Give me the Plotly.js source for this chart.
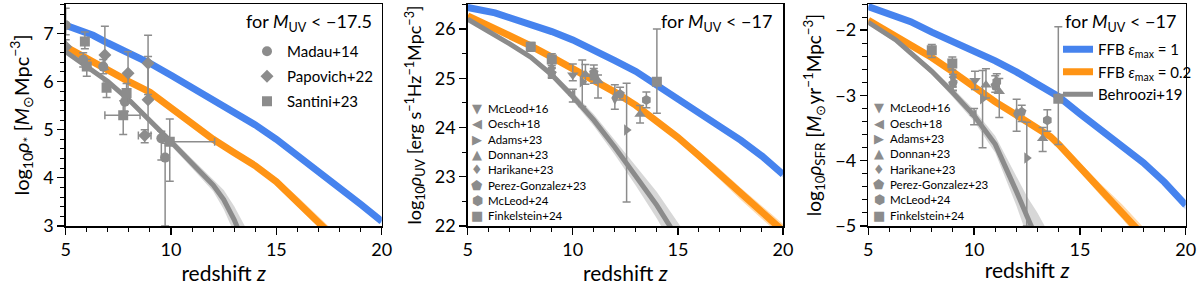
<!DOCTYPE html>
<html><head><meta charset="utf-8">
<script src="https://cdn.plot.ly/plotly-3.0.1.min.js"></script>
<style>html,body{margin:0;padding:0;background:#fff}#chart{width:1200px;height:289px}</style>
</head><body><div id="chart"></div>
<script>
// ---------------- model curves (redshift grids) ----------------
const zModel = [5, 6, 6.3, 7, 8, 9, 10, 11, 12, 13, 14, 15, 16, 17, 18, 19, 20];

// Panel 1: log10 rho_* [Msun Mpc^-3]
const mstarFFB1    = [7.17, 7.0, 6.96, 6.8, 6.6, 6.38, 6.13, 5.88, 5.63, 5.37, 5.1, 4.8, 4.47, 4.13, 3.8, 3.45, 3.1];
const mstarFFB1Err = [0.03, 0.03, 0.03, 0.03, 0.03, 0.03, 0.03, 0.03, 0.03, 0.03, 0.03, 0.03, 0.03, 0.04, 0.05, 0.05, 0.06];
const zMstarFFB02  = [5, 6, 6.3, 7, 8, 9, 10, 11, 12, 13, 14, 15, 16, 17, 17.5, 18];
const mstarFFB02   = [6.72, 6.47, 6.42, 6.22, 6.0, 5.78, 5.45, 5.12, 4.8, 4.52, 4.25, 3.92, 3.52, 3.1, 2.88, 2.65];
const mstarFFB02Err= [0.03, 0.03, 0.03, 0.03, 0.03, 0.03, 0.03, 0.03, 0.04, 0.04, 0.05, 0.07, 0.09, 0.11, 0.12, 0.13];
const zMstarB19    = [5, 6, 6.3, 7, 8, 9, 10, 11, 12, 12.5, 13, 13.5, 14];
const mstarB19     = [6.62, 6.3, 6.22, 6.0, 5.62, 5.2, 4.75, 4.3, 3.85, 3.55, 3.13, 2.6, 2.0];
const mstarB19Err  = [0.03, 0.03, 0.03, 0.04, 0.05, 0.06, 0.08, 0.1, 0.13, 0.2, 0.28, 0.4, 0.5];

// Panel 2: log10 rho_UV [erg s^-1 Hz^-1 Mpc^-3]
const uvFFB1     = [26.44, 26.36, 26.33, 26.23, 26.1, 25.95, 25.78, 25.58, 25.36, 25.14, 24.87, 24.58, 24.3, 24.02, 23.74, 23.42, 23.05];
const uvFFB1Err  = [0.03, 0.03, 0.03, 0.03, 0.03, 0.03, 0.03, 0.03, 0.03, 0.03, 0.03, 0.03, 0.03, 0.04, 0.05, 0.05, 0.06];
const uvFFB02    = [26.27, 26.07, 26.03, 25.88, 25.66, 25.43, 25.2, 24.96, 24.72, 24.45, 24.14, 23.8, 23.43, 23.05, 22.65, 22.27, 21.9];
const uvFFB02Err = [0.03, 0.03, 0.03, 0.03, 0.03, 0.03, 0.03, 0.03, 0.03, 0.03, 0.05, 0.07, 0.09, 0.11, 0.12, 0.13, 0.14];
const zUvB19     = [5, 6, 6.3, 7, 8, 9, 10, 11, 12, 13, 14, 14.5, 15, 15.5];
const uvB19      = [26.2, 25.95, 25.89, 25.7, 25.43, 25.07, 24.63, 24.15, 23.6, 23.02, 22.42, 22.08, 21.75, 21.4];
const uvB19Err   = [0.03, 0.03, 0.03, 0.04, 0.05, 0.07, 0.09, 0.12, 0.15, 0.2, 0.27, 0.3, 0.33, 0.36];

// Panel 3: log10 rho_SFR [Msun yr^-1 Mpc^-3]
const sfrFFB1     = [-1.64, -1.76, -1.78, -1.87, -2.03, -2.17, -2.31, -2.47, -2.64, -2.83, -3.02, -3.28, -3.53, -3.78, -4.03, -4.33, -4.68];
const sfrFFB1Err  = [0.03, 0.03, 0.03, 0.03, 0.03, 0.03, 0.03, 0.03, 0.03, 0.03, 0.03, 0.03, 0.04, 0.04, 0.05, 0.06, 0.07];
const zSfrFFB02   = [5, 6, 6.3, 7, 8, 9, 10, 11, 12, 13, 13.6, 14, 15, 16, 17, 18];
const sfrFFB02    = [-1.85, -2.04, -2.1, -2.22, -2.42, -2.64, -2.88, -3.1, -3.3, -3.5, -3.63, -3.75, -4.1, -4.45, -4.78, -5.15];
const sfrFFB02Err = [0.03, 0.03, 0.03, 0.03, 0.03, 0.03, 0.03, 0.03, 0.03, 0.03, 0.04, 0.05, 0.07, 0.09, 0.11, 0.13];
const zSfrB19     = [5, 6, 6.3, 7, 8, 9, 10, 11, 11.5, 12, 12.5, 13, 13.5];
const sfrB19      = [-1.88, -2.1, -2.15, -2.35, -2.63, -2.96, -3.31, -3.75, -4.1, -4.47, -4.85, -5.2, -5.6];
const sfrB19Err   = [0.03, 0.03, 0.03, 0.04, 0.05, 0.07, 0.09, 0.13, 0.17, 0.22, 0.3, 0.4, 0.5];

// ---------------- observations ----------------
// Panel 1 (stellar mass density)
const madauZ = [5.0, 5.83, 6.78, 7.81, 9.54, 9.72];
const madauV = [7.17, 6.45, 6.31, 5.58, 4.82, 4.42];
const madauHi = [0.35, 0.15, 0.15, 0.2, 0.15, 0.3];
const madauLo = [0.2, 0.15, 0.15, 0.2, 0.45, 1.42];

const papovichZ = [5.0, 6.86, 7.96, 8.91, 8.91, 8.75];
const papovichV = [6.72, 6.55, 6.17, 6.38, 5.62, 4.88];
const papovichHi = [0.15, 0.6, 0.45, 0.58, 0.9, 0.12];
const papovichLo = [0.15, 0.3, 0.6, 0.65, 0.7, 0.15];
const papovichXHi = [0, 0, 0, 0, 0, 0.3];
const papovichXLo = [0, 0, 0, 0, 0, 0.3];

const santiniZ = [5.91, 6.0, 6.94, 7.89, 7.73, 9.94];
const santiniV = [6.83, 6.31, 5.87, 5.76, 5.3, 4.75];
const santiniHi = [0.2, 0.15, 0.12, 0.2, 0.3, 0.47];
const santiniLo = [0.15, 0.2, 0.2, 0.2, 0.4, 0.82];
const santiniXHi = [0, 0, 0, 0, 0.8, 2.13];
const santiniXLo = [0, 0, 0, 0, 0.87, 0.2];

// Panels 2 & 3 surveys
const obsNames = ['McLeod+16', 'Oesch+18', 'Adams+23', 'Donnan+23', 'Harikane+23', 'Perez-Gonzalez+23', 'McLeod+24', 'Finkelstein+24'];
const obsSymbols = ['triangle-down', 'triangle-left', 'triangle-right', 'triangle-up', 'diamond-tall', 'pentagon', 'hexagon', 'square'];
const obsGlyphs = ['▼', '◀', '▶', '▲', '♦', '⬟', '⬢', '■'];

const uvObsZ  = [[10.0], [10.0], [9.0, 10.45, 12.56], [10.6, 11.2, 13.2], [9.0, 12.0], [9.0, 11.0, 12.25], [11.0, 13.5], [8.0, 9.0, 14.0]];
const uvObsV  = [[25.07], [24.66], [25.12, 24.93, 23.95], [25.08, 24.95, 24.27], [25.2, 24.6], [25.1, 25.12, 24.68], [25.05, 24.56], [25.64, 25.38, 24.93]];
const uvObsHi = [[0.22], [0.12], [0.1, 0.44, 0.95], [0.2, 0.12, 0.18], [0.15, 0.27], [0.1, 0.15, 0.14], [0.15, 0.16], [0.09, 0.12, 1.07]];
const uvObsLo = [[0.12], [0.14], [0.1, 0.5, 1.46], [0.2, 0.35, 0.18], [0.15, 0.23], [0.1, 0.15, 0.12], [0.15, 0.16], [0.09, 0.12, 0.64]];

const sfrObsZ  = [[10.04], [10.0], [9.0, 10.4, 12.49], [10.56, 11.19, 13.24], [9.0, 12.01], [9.0, 11.0, 12.25], [11.07, 13.46], [8.0, 8.97, 13.98]];
const sfrObsV  = [[-2.77], [-3.3], [-2.78, -3.05, -3.96], [-2.84, -2.94, -3.66], [-2.72, -3.28], [-2.82, -2.85, -3.25], [-2.79, -3.38], [-2.31, -2.51, -3.05]];
const sfrObsHi = [[0.14], [0.1], [0.1, 0.43, 0.55], [0.25, 0.2, 0.17], [0.15, 0.22], [0.1, 0.15, 0.1], [0.12, 0.16], [0.09, 0.1, 1.1]];
const sfrObsLo = [[0.14], [0.15], [0.15, 0.75, 1.04], [0.2, 0.4, 0.2], [0.15, 0.27], [0.1, 0.1, 0.15], [0.12, 0.17], [0.11, 0.1, 0.7]];

// ---------------- styling ----------------
const FONT = 'Lato, "Noto Sans", sans-serif';
const BLUE = '#4683EE', BLUE_BAND = 'rgba(70,131,238,0.35)';
const ORANGE = '#FF9415', ORANGE_BAND = 'rgba(255,148,21,0.35)';
const GRAY = '#8B8B8B', GRAY_BAND = 'rgba(150,150,150,0.38)';
const PGRAY = '#8C8C8C';

const traces = [];

function addModel(z, v, err, xa, ya, color, band, width, name, legend) {
  const hi = v.map((d, i) => d + err[i]);
  const lo = v.map((d, i) => d - err[i]);
  traces.push({
    x: z.concat(z.slice().reverse()), y: hi.concat(lo.slice().reverse()),
    xaxis: xa, yaxis: ya, mode: 'lines', fill: 'toself', fillcolor: band,
    line: {width: 0}, showlegend: false, hoverinfo: 'skip'
  });
  traces.push({
    x: z, y: v, xaxis: xa, yaxis: ya, mode: 'lines', name: name,
    line: {color: color, width: width},
    showlegend: !!legend, legend: legend || 'legend'
  });
}

function addObs(z, v, hi, lo, xhi, xlo, xa, ya, symbol, name, legend) {
  const t = {
    x: z, y: v, xaxis: xa, yaxis: ya, mode: 'markers', name: name,
    marker: {symbol: symbol, size: 10, color: PGRAY},
    error_y: {type: 'data', symmetric: false, array: hi, arrayminus: lo, color: PGRAY, thickness: 1.5, width: 4},
    showlegend: !!legend, legend: legend || 'legend', legendgroup: name
  };
  if (xhi) t.error_x = {type: 'data', symmetric: false, array: xhi, arrayminus: xlo, color: PGRAY, thickness: 1.5, width: 4};
  traces.push(t);
}

// Panel 1
addModel(zModel, mstarFFB1, mstarFFB1Err, 'x', 'y', BLUE, BLUE_BAND, 7);
addModel(zMstarFFB02, mstarFFB02, mstarFFB02Err, 'x', 'y', ORANGE, ORANGE_BAND, 7);
addModel(zMstarB19, mstarB19, mstarB19Err, 'x', 'y', GRAY, GRAY_BAND, 5);
addObs(madauZ, madauV, madauHi, madauLo, null, null, 'x', 'y', 'circle', 'Madau+14', 'legend');
addObs(papovichZ, papovichV, papovichHi, papovichLo, papovichXHi, papovichXLo, 'x', 'y', 'diamond', 'Papovich+22', 'legend');
addObs(santiniZ, santiniV, santiniHi, santiniLo, santiniXHi, santiniXLo, 'x', 'y', 'square', 'Santini+23', 'legend');

// Panel 2
addModel(zModel, uvFFB1, uvFFB1Err, 'x2', 'y2', BLUE, BLUE_BAND, 7);
addModel(zModel, uvFFB02, uvFFB02Err, 'x2', 'y2', ORANGE, ORANGE_BAND, 7);
addModel(zUvB19, uvB19, uvB19Err, 'x2', 'y2', GRAY, GRAY_BAND, 5);
obsNames.forEach((n, i) => addObs(uvObsZ[i], uvObsV[i], uvObsHi[i], uvObsLo[i], null, null, 'x2', 'y2', obsSymbols[i], n));

// Panel 3
addModel(zModel, sfrFFB1, sfrFFB1Err, 'x3', 'y3', BLUE, BLUE_BAND, 7, 'FFB <i>ε</i><sub>max</sub> = 1', 'legend2');
addModel(zSfrFFB02, sfrFFB02, sfrFFB02Err, 'x3', 'y3', ORANGE, ORANGE_BAND, 7, 'FFB <i>ε</i><sub>max</sub> = 0.2', 'legend2');
addModel(zSfrB19, sfrB19, sfrB19Err, 'x3', 'y3', GRAY, GRAY_BAND, 5, 'Behroozi+19', 'legend2');
obsNames.forEach((n, i) => addObs(sfrObsZ[i], sfrObsV[i], sfrObsHi[i], sfrObsLo[i], null, null, 'x3', 'y3', obsSymbols[i], n));

// ---------------- layout ----------------
const W = 1200, H = 289;
const px = v => v / W, py = v => 1 - v / H;
const yDom = [py(226), py(4)];

function xAx(l, r, anchor) {
  return {
    domain: [px(l), px(r)], anchor: anchor, range: [5, 20], dtick: 5, tick0: 0,
    showline: true, linecolor: '#000', linewidth: 1.5, mirror: true,
    ticks: 'outside', ticklen: 7, tickwidth: 1.3, tickcolor: '#000',
    minor: {dtick: 1, ticks: 'outside', ticklen: 4.5, tickwidth: 1, tickcolor: '#000'},
    showgrid: false, zeroline: false, tickfont: {size: 18, color: '#000', family: FONT},
    title: {text: 'redshift <i>z</i>', font: {size: 21, color: '#000', family: FONT}, standoff: 4}
  };
}
function yAx(range, minor, anchor, title, tsize) {
  return {
    domain: yDom, anchor: anchor, range: range, dtick: 1,
    showline: true, linecolor: '#000', linewidth: 1.5, mirror: true,
    ticks: 'outside', ticklen: 7, tickwidth: 1.3, tickcolor: '#000',
    minor: {dtick: minor, ticks: 'outside', ticklen: 4.5, tickwidth: 1, tickcolor: '#000'},
    showgrid: false, zeroline: false, tickfont: {size: 18, color: '#000', family: FONT},
    title: {text: title, font: {size: tsize, color: '#000', family: FONT}, standoff: 8}
  };
}

const annotations = [];
function headline(xr, text) {
  annotations.push({xref: 'paper', yref: 'paper', x: px(xr), y: py(22), xanchor: 'right', yanchor: 'middle',
    text: text, showarrow: false, font: {size: 18, color: '#000', family: FONT}});
}
headline(374, 'for <i>M</i><sub>UV</sub> < −17.5');
headline(774, 'for <i>M</i><sub>UV</sub> < −17');
headline(1178, 'for <i>M</i><sub>UV</sub> < −17');

function smallLegend(symX, textX, y0) {
  obsNames.forEach((n, i) => {
    const yy = y0 + i * 15.3;
    annotations.push({xref: 'paper', yref: 'paper', x: px(symX), y: py(yy), xanchor: 'center', yanchor: 'middle',
      text: obsGlyphs[i], showarrow: false, font: {size: 13, color: PGRAY, family: '"DejaVu Sans", sans-serif'}});
    annotations.push({xref: 'paper', yref: 'paper', x: px(textX), y: py(yy), xanchor: 'left', yanchor: 'middle',
      text: n, showarrow: false, font: {size: 11.5, color: '#000', family: FONT}});
  });
}
smallLegend(477, 486, 108.5);
smallLegend(879, 888, 108);

const layout = {
  width: W, height: H, margin: {l: 0, r: 0, t: 0, b: 0},
  paper_bgcolor: '#fff', plot_bgcolor: '#fff',
  font: {family: FONT, color: '#000'},
  xaxis: xAx(65.7, 381.7, 'y'),
  yaxis: yAx([3, 7.61], 0.2, 'x', 'log<sub>10</sub><i>ρ</i><sub>*</sub> [<i>M</i><sub>⊙</sub>Mpc<sup>−3</sup>]', 20),
  xaxis2: xAx(467.7, 783, 'y2'),
  yaxis2: yAx([22, 26.51], 0.5, 'x2', 'log<sub>10</sub><i>ρ</i><sub>UV</sub> [erg s<sup>−1</sup>Hz<sup>−1</sup>Mpc<sup>−3</sup>]', 18),
  xaxis3: xAx(868.3, 1185.7, 'y3'),
  yaxis3: yAx([-5, -1.6], 0.2, 'x3', 'log<sub>10</sub><i>ρ</i><sub>SFR</sub> [<i>M</i><sub>⊙</sub>yr<sup>−1</sup>Mpc<sup>−3</sup>]', 19),
  legend: {x: px(247), y: py(35), xanchor: 'left', yanchor: 'top', bgcolor: 'rgba(0,0,0,0)',
    font: {size: 15, color: '#000', family: FONT}, traceorder: 'grouped', tracegroupgap: 2.5, itemwidth: 30},
  legend2: {x: px(1058), y: py(33), xanchor: 'left', yanchor: 'top', bgcolor: 'rgba(0,0,0,0)',
    font: {size: 15, color: '#000', family: FONT}, itemwidth: 30},
  annotations: annotations,
  showlegend: true
};

Plotly.newPlot('chart', traces, layout, {staticPlot: true, displayModeBar: false});
</script>
</body></html>
